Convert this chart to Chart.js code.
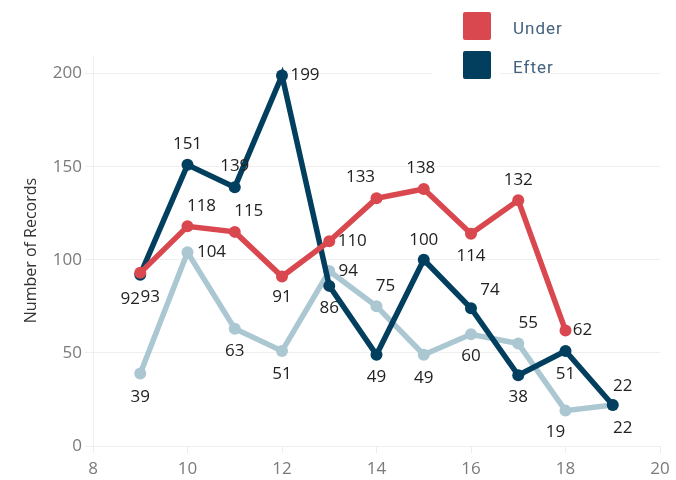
<!DOCTYPE html>
<html>
<head>
<meta charset="utf-8">
<script src="https://cdn.jsdelivr.net/npm/chart.js@4.4.1/dist/chart.umd.min.js"></script>
<style>
  html, body { margin: 0; padding: 0; background: #fff; }
  #wrap { position: relative; width: 676px; height: 480px; }
  #legend { position: absolute; left: 432px; top: 0; width: 200px; }
  #legend .cover { position: absolute; left: 0; top: 0; width: 68px; height: 88px; background: #fff; }
  #legend .item { position: absolute; left: 31px; height: 28px; display: flex; align-items: center; }
  #legend .swatch { width: 28px; height: 28px; border-radius: 2px; }
  #legend .text {
    margin-left: 22px; font: 17px Roboto, sans-serif; letter-spacing: 1px;
    color: #44627f; position: relative; top: 2px;
  }
</style>
</head>
<body>
<div id="wrap">
  <canvas id="chart" width="676" height="480"></canvas>
  <div id="legend">
    <div class="cover"></div>
    <div class="item" style="top:12px"><div class="swatch" style="background:#d9474f"></div><div class="text">Under</div></div>
    <div class="item" style="top:51px"><div class="swatch" style="background:#023f5f"></div><div class="text">Efter</div></div>
  </div>
</div>
<script>
/* ── series data ───────────────────────────── */
const underX = [9, 10, 11, 12, 13, 14, 15, 16, 17, 18];
const underY = [93, 118, 115, 91, 110, 133, 138, 114, 132, 62];

const efterX = [9, 10, 11, 12, 13, 14, 15, 16, 17, 18, 19];
const efterY = [92, 151, 139, 199, 86, 49, 100, 74, 38, 51, 22];

const otherX = [9, 10, 11, 12, 13, 14, 15, 16, 17, 18, 19];
const otherY = [39, 104, 63, 51, 94, 75, 49, 60, 55, 19, 22];

const yTicks = [0, 50, 100, 150, 200];
const xTicks = [8, 10, 12, 14, 16, 18, 20];

/* ── label placement (pixel offsets from each point) ── */
const underLabelOffsets = [[10, 24], [14, -20], [14, -21], [0, 21], [23, 0], [-16, -21], [-3, -21], [0, 22], [0, -20], [17, 0]];
const efterLabelOffsets = [[-10, 24], [0, -21], [0, -21], [23, 0], [0, 22], [0, 22], [0, -20], [19, -18], [0, 22], [0, 23], [10, -19]];
const otherLabelOffsets = [[0, 24], [24, 0], [0, 22], [0, 23], [19, 0], [9, -20], [0, 23], [0, 22], [10, -20], [-10, 22], [10, 23]];

const COLORS = {
  under: '#d9474f',
  efter: '#023f5f',
  other: '#aac7d2',
};

const toPoints = (xs, ys) => xs.map((x, i) => ({ x, y: ys[i] }));

function lineSet(label, xs, ys, color, offsets) {
  return {
    label,
    data: toPoints(xs, ys),
    borderColor: color,
    backgroundColor: color,
    borderWidth: 5.5,
    pointRadius: 6,
    pointBorderWidth: 0,
    pointHoverRadius: 6,
    tension: 0,
    labelOffsets: offsets,
  };
}

// Value labels next to each point
const pointLabels = {
  id: 'pointLabels',
  afterDatasetsDraw(chart) {
    const { ctx } = chart;
    ctx.save();
    ctx.font = '17px "Open Sans", sans-serif';
    ctx.fillStyle = '#222';
    ctx.textAlign = 'center';
    ctx.textBaseline = 'middle';
    chart.data.datasets.forEach((ds, di) => {
      const meta = chart.getDatasetMeta(di);
      meta.data.forEach((pt, i) => {
        const [dx, dy] = ds.labelOffsets[i] || [0, -20];
        ctx.fillText(String(ds.data[i].y), pt.x + dx, pt.y + dy);
      });
    });
    ctx.restore();
  },
};

const tickFont = { family: '"Open Sans", sans-serif', size: 17 };

new Chart(document.getElementById('chart'), {
  type: 'line',
  data: {
    datasets: [
      lineSet('Under', underX, underY, COLORS.under, underLabelOffsets),
      lineSet('Efter', efterX, efterY, COLORS.efter, efterLabelOffsets),
      lineSet('Other', otherX, otherY, COLORS.other, otherLabelOffsets),
    ],
  },
  options: {
    responsive: false,
    animation: false,
    layout: { padding: { top: 55, right: 16, bottom: 0, left: 0 } },
    plugins: {
      legend: { display: false },
      tooltip: { enabled: false },
    },
    scales: {
      x: {
        type: 'linear',
        min: 8,
        max: 20,
        afterBuildTicks: (s) => { s.ticks = xTicks.map((v) => ({ value: v })); },
        afterFit: (s) => { s.height = 34; },
        grid: { drawOnChartArea: false, color: '#ececec', tickLength: 7 },
        border: { display: false },
        ticks: { color: '#7a7a7a', font: tickFont, padding: 6 },
      },
      y: {
        min: 0,
        max: 210,
        afterBuildTicks: (s) => { s.ticks = yTicks.map((v) => ({ value: v })); },
        afterFit: (s) => { s.width = 93; },
        grid: { color: '#efefef', tickLength: 8 },
        border: { display: true, color: '#efefef' },
        ticks: { color: '#7a7a7a', font: tickFont, padding: 3 },
        title: {
          display: true,
          text: 'Number of Records',
          color: '#333',
          font: { family: '"Open Sans", sans-serif', size: 16 },
          padding: { top: 22 },
        },
      },
    },
  },
  plugins: [pointLabels],
});
</script>
</body>
</html>
